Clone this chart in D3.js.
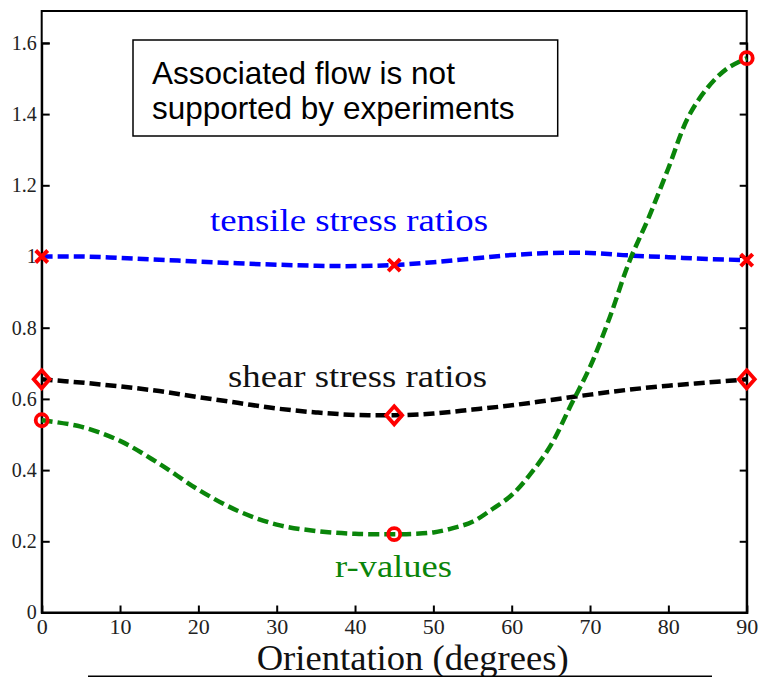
<!DOCTYPE html>
<html>
<head>
<meta charset="utf-8">
<script src="https://cdn.jsdelivr.net/npm/d3@7"></script>
<style>
  html, body { margin: 0; padding: 0; background: #fff; }
  svg { display: block; }
</style>
</head>
<body>
<svg id="chart" width="761" height="677"></svg>
<script>
// Orientation angles (degrees) at which the stress-ratio curves are sampled
const angles = [0, 5, 10, 15, 20, 25, 30, 35, 40, 45, 50, 55, 60, 65, 70, 75, 80, 85, 90];

// Fitted stress-ratio curves
const tensileCurve = [1.000, 1.000, 0.996, 0.991, 0.986, 0.981, 0.977, 0.974, 0.973, 0.976,
                      0.984, 0.994, 1.004, 1.010, 1.010, 1.003, 0.998, 0.993, 0.990];
const shearCurve   = [0.655, 0.646, 0.635, 0.622, 0.605, 0.589, 0.573, 0.562, 0.555, 0.554,
                      0.559, 0.570, 0.582, 0.597, 0.612, 0.626, 0.637, 0.646, 0.655];

// Fitted r-value curve (denser where it climbs steeply)
const rAngles = [0, 5, 10, 15, 20, 25, 30, 35, 40, 45, 47.5, 50, 52.5, 55, 57.5, 60, 62.5, 65,
                 67.5, 70, 72.5, 75, 77.5, 80, 82.5, 85, 87.5, 90];
const rCurve  = [0.540, 0.522, 0.482, 0.418, 0.345, 0.286, 0.247, 0.229, 0.221, 0.220, 0.221,
                 0.225, 0.237, 0.255, 0.290, 0.330, 0.392, 0.470, 0.580, 0.690, 0.828, 0.985,
                 1.110, 1.248, 1.390, 1.474, 1.528, 1.557];

// Experimental points
const markerAngles   = [0, 45, 90];
const tensilePoints  = [1.000, 0.976, 0.990];
const shearPoints    = [0.655, 0.554, 0.655];
const rPoints        = [0.540, 0.220, 1.557];

// Axis ticks
const xTicks = [0, 10, 20, 30, 40, 50, 60, 70, 80, 90];
const xTickLabels = ["0", "10", "20", "30", "40", "50", "60", "70", "80", "90"];
const yTicks = [0, 0.2, 0.4, 0.6, 0.8, 1.0, 1.2, 1.4, 1.6];
const yTickLabels = ["0", "0.2", "0.4", "0.6", "0.8", "1", "1.2", "1.4", "1.6"];

const svg = d3.select("#chart");
const plotLeft = 41.7, plotRight = 746.7, plotTop = 11, plotBottom = 612.5;

const x = d3.scaleLinear().domain([0, 90]).range([plotLeft, plotRight]);
const y = d3.scaleLinear().domain([0, 1.6]).range([plotBottom, 42.9]);

const serif = "'Liberation Serif', 'Times New Roman', serif";
const sans = "'Liberation Sans', Arial, sans-serif";

// Frame
svg.append("rect")
  .attr("x", plotLeft).attr("y", plotTop)
  .attr("width", plotRight - plotLeft).attr("height", plotBottom - plotTop)
  .attr("fill", "none").attr("stroke", "#000").attr("stroke-width", 2);

// Left axis (ticks pointing inward)
const yAxis = svg.append("g")
  .attr("transform", `translate(${plotLeft},0)`)
  .call(d3.axisLeft(y).tickValues(yTicks).tickSize(-8).tickPadding(5)
        .tickFormat((d, i) => yTickLabels[i]));
// Right axis ticks
const yAxisR = svg.append("g")
  .attr("transform", `translate(${plotRight},0)`)
  .call(d3.axisRight(y).tickValues(yTicks).tickSize(-7).tickFormat(""));
// Bottom axis
const xAxis = svg.append("g")
  .attr("transform", `translate(0,${plotBottom})`)
  .call(d3.axisBottom(x).tickValues(xTicks).tickSize(-7).tickPadding(6)
        .tickFormat((d, i) => xTickLabels[i]));

[yAxis, yAxisR, xAxis].forEach(g => {
  g.select(".domain").attr("stroke", "#000").attr("stroke-width", 2);
  g.selectAll(".tick line").attr("stroke", "#000").attr("stroke-width", 2);
});
yAxis.selectAll(".tick text").attr("font-family", serif).attr("font-size", 20).attr("fill", "#222");
xAxis.selectAll(".tick text").attr("font-family", serif).attr("font-size", 22).attr("fill", "#222");

// Axis title with rule underneath
svg.append("text")
  .attr("x", 256.7).attr("y", 670)
  .attr("font-family", serif).attr("font-size", 36)
  .attr("textLength", 312).attr("lengthAdjust", "spacingAndGlyphs")
  .attr("fill", "#111")
  .text("Orientation (degrees)");
svg.append("line")
  .attr("x1", 88).attr("x2", 712).attr("y1", 676.5).attr("y2", 676.5)
  .attr("stroke", "#000").attr("stroke-width", 2);

// Curves
const curve = d3.curveCatmullRom.alpha(0.5);
const curves = [
  { xs: angles,  values: tensileCurve, color: "#0000ff" },
  { xs: angles,  values: shearCurve,   color: "#000000" },
  { xs: rAngles, values: rCurve,       color: "#0a850a" }
];
svg.append("g").selectAll("path")
  .data(curves)
  .join("path")
  .attr("d", d => d3.line().x((v, i) => x(d.xs[i])).y(v => y(v)).curve(curve)(d.values))
  .attr("fill", "none")
  .attr("stroke", d => d.color)
  .attr("stroke-width", 4.5)
  .attr("stroke-dasharray", "11,5");

// Markers
const red = "#ff0000";
const gM = svg.append("g");
gM.selectAll("path.xmark")
  .data(tensilePoints)
  .join("path")
  .attr("class", "xmark")
  .attr("transform", (d, i) => `translate(${x(markerAngles[i])},${y(d)})`)
  .attr("d", "M-6,-6L6,6M-6,6L6,-6")
  .attr("stroke", red).attr("stroke-width", 4).attr("fill", "none");
gM.selectAll("path.diamond")
  .data(shearPoints)
  .join("path")
  .attr("class", "diamond")
  .attr("transform", (d, i) => `translate(${x(markerAngles[i])},${y(d)})`)
  .attr("d", "M0,-9L8,0L0,9L-8,0Z")
  .attr("stroke", red).attr("stroke-width", 3.8).attr("fill", "none");
gM.selectAll("circle")
  .data(rPoints)
  .join("circle")
  .attr("cx", (d, i) => x(markerAngles[i]))
  .attr("cy", d => y(d))
  .attr("r", 6)
  .attr("stroke", red).attr("stroke-width", 3.8).attr("fill", "none");

// Series labels
const labels = [
  { text: "tensile stress ratios", x: 210, y: 231, len: 278, color: "#0000ff" },
  { text: "shear stress ratios",   x: 228, y: 387, len: 259, color: "#111111" },
  { text: "r-values",              x: 335, y: 577, len: 117, color: "#0a850a" }
];
svg.append("g").selectAll("text")
  .data(labels)
  .join("text")
  .attr("x", d => d.x).attr("y", d => d.y)
  .attr("font-family", serif).attr("font-size", 32)
  .attr("textLength", d => d.len).attr("lengthAdjust", "spacingAndGlyphs")
  .attr("fill", d => d.color)
  .text(d => d.text);

// Annotation box
svg.append("rect")
  .attr("x", 133).attr("y", 40).attr("width", 424.7).attr("height", 96)
  .attr("fill", "#fff").attr("stroke", "#000").attr("stroke-width", 1.5);
const note = svg.append("text")
  .attr("font-family", sans).attr("font-size", 31.5).attr("fill", "#000");
note.append("tspan").attr("x", 152).attr("y", 84).text("Associated flow is not");
note.append("tspan").attr("x", 152).attr("y", 119).text("supported by experiments");
</script>
</body>
</html>
